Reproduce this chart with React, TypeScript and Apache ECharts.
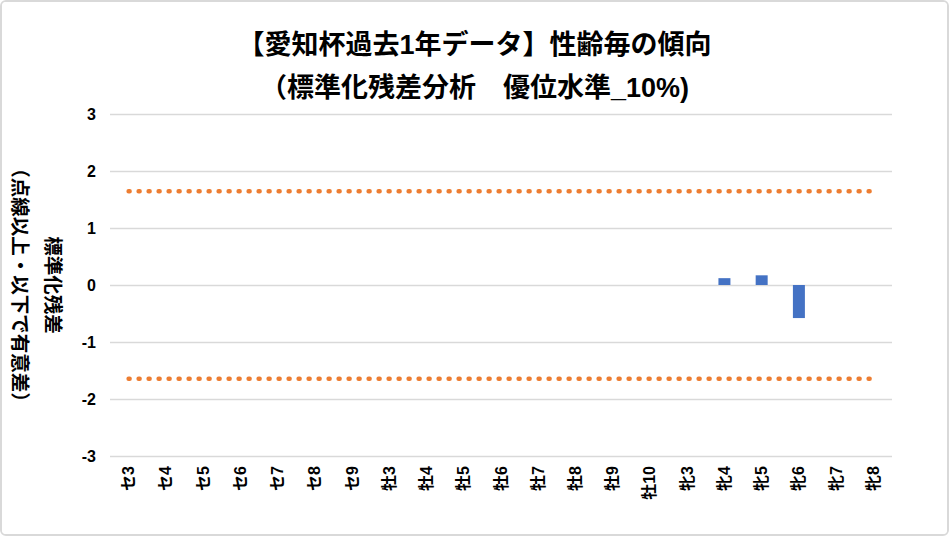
import React, { useEffect, useRef } from "react";
import * as echarts from "echarts";

const categories = [
  "セ3", "セ4", "セ5", "セ6", "セ7", "セ8", "セ9",
  "牡3", "牡4", "牡5", "牡6", "牡7", "牡8", "牡9", "牡10",
  "牝3", "牝4", "牝5", "牝6", "牝7", "牝8",
];
const residuals = [
  0, 0, 0, 0, 0, 0, 0,
  0, 0, 0, 0, 0, 0, 0, 0,
  0, 0.12, 0.17, -0.58, 0, 0,
];
const upperThreshold = categories.map(() => 1.645);
const lowerThreshold = categories.map(() => -1.645);
const yTicks = { min: -3, max: 3, interval: 1 };

const FONT = "'Liberation Sans', Arial, 'Noto Sans CJK JP', sans-serif";

export default function App() {
  const ref = useRef<HTMLDivElement>(null);
  useEffect(() => {
    if (!ref.current) return;
    const chart = echarts.init(ref.current, undefined, { renderer: "svg" });
    const dotted = {
      type: [1, 9] as number[],
      width: 4.5,
      color: "#ED7D31",
      cap: "round" as const,
    };
    chart.setOption({
      animation: false,
      backgroundColor: "#ffffff",
      title: {
        text: "【愛知杯過去1年データ】性齢毎の傾向\n（標準化残差分析　優位水準_10%)",
        left: "center",
        top: 16,
        textStyle: {
          fontFamily: FONT,
          fontSize: 27,
          fontWeight: "bold",
          color: "#000",
          lineHeight: 43,
        },
      },
      grid: { left: 108, right: 55, top: 112, bottom: 78, outerBoundsMode: "none", containLabel: false },
      xAxis: {
        type: "category",
        data: categories,
        axisLine: { show: false },
        axisTick: { show: false },
        axisLabel: {
          rotate: 90,
          margin: 10,
          fontFamily: FONT,
          fontSize: 16,
          fontWeight: "bold",
          color: "#000",
          interval: 0,
        },
      },
      yAxis: {
        type: "value",
        min: yTicks.min,
        max: yTicks.max,
        interval: yTicks.interval,
        axisLine: { show: false },
        axisTick: { show: false },
        splitLine: { lineStyle: { color: "#d9d9d9", width: 1.3 } },
        axisLabel: {
          margin: 14,
          fontFamily: FONT,
          fontSize: 16,
          fontWeight: "bold",
          color: "#000",
        },
        name: "標準化残差\n（点線以上・以下で有意差）",
        nameLocation: "middle",
        nameRotate: -90,
        nameGap: 41,
        nameMoveOverlap: false,
        nameTextStyle: {
          fontFamily: FONT,
          fontSize: 19.5,
          fontWeight: "bold",
          color: "#000",
          lineHeight: 33,
        },
      },
      series: [
        {
          type: "bar",
          data: residuals,
          barWidth: 12,
          itemStyle: { color: "#4472C4" },
          z: 3,
        },
        {
          type: "line",
          data: upperThreshold,
          symbol: "none",
          lineStyle: dotted,
          z: 2,
        },
        {
          type: "line",
          data: lowerThreshold,
          symbol: "none",
          lineStyle: dotted,
          z: 2,
        },
      ],
    });
    return () => chart.dispose();
  }, []);
  return (
    <div
      style={{
        position: "fixed",
        left: 0,
        top: 0,
        width: 949,
        height: 536,
        boxSizing: "border-box",
        border: "2px solid #d9d9d9",
        borderRadius: 6,
        overflow: "hidden",
        background: "#fff",
      }}
    >
      <div ref={ref} style={{ width: 945, height: 532 }} />
    </div>
  );
}
